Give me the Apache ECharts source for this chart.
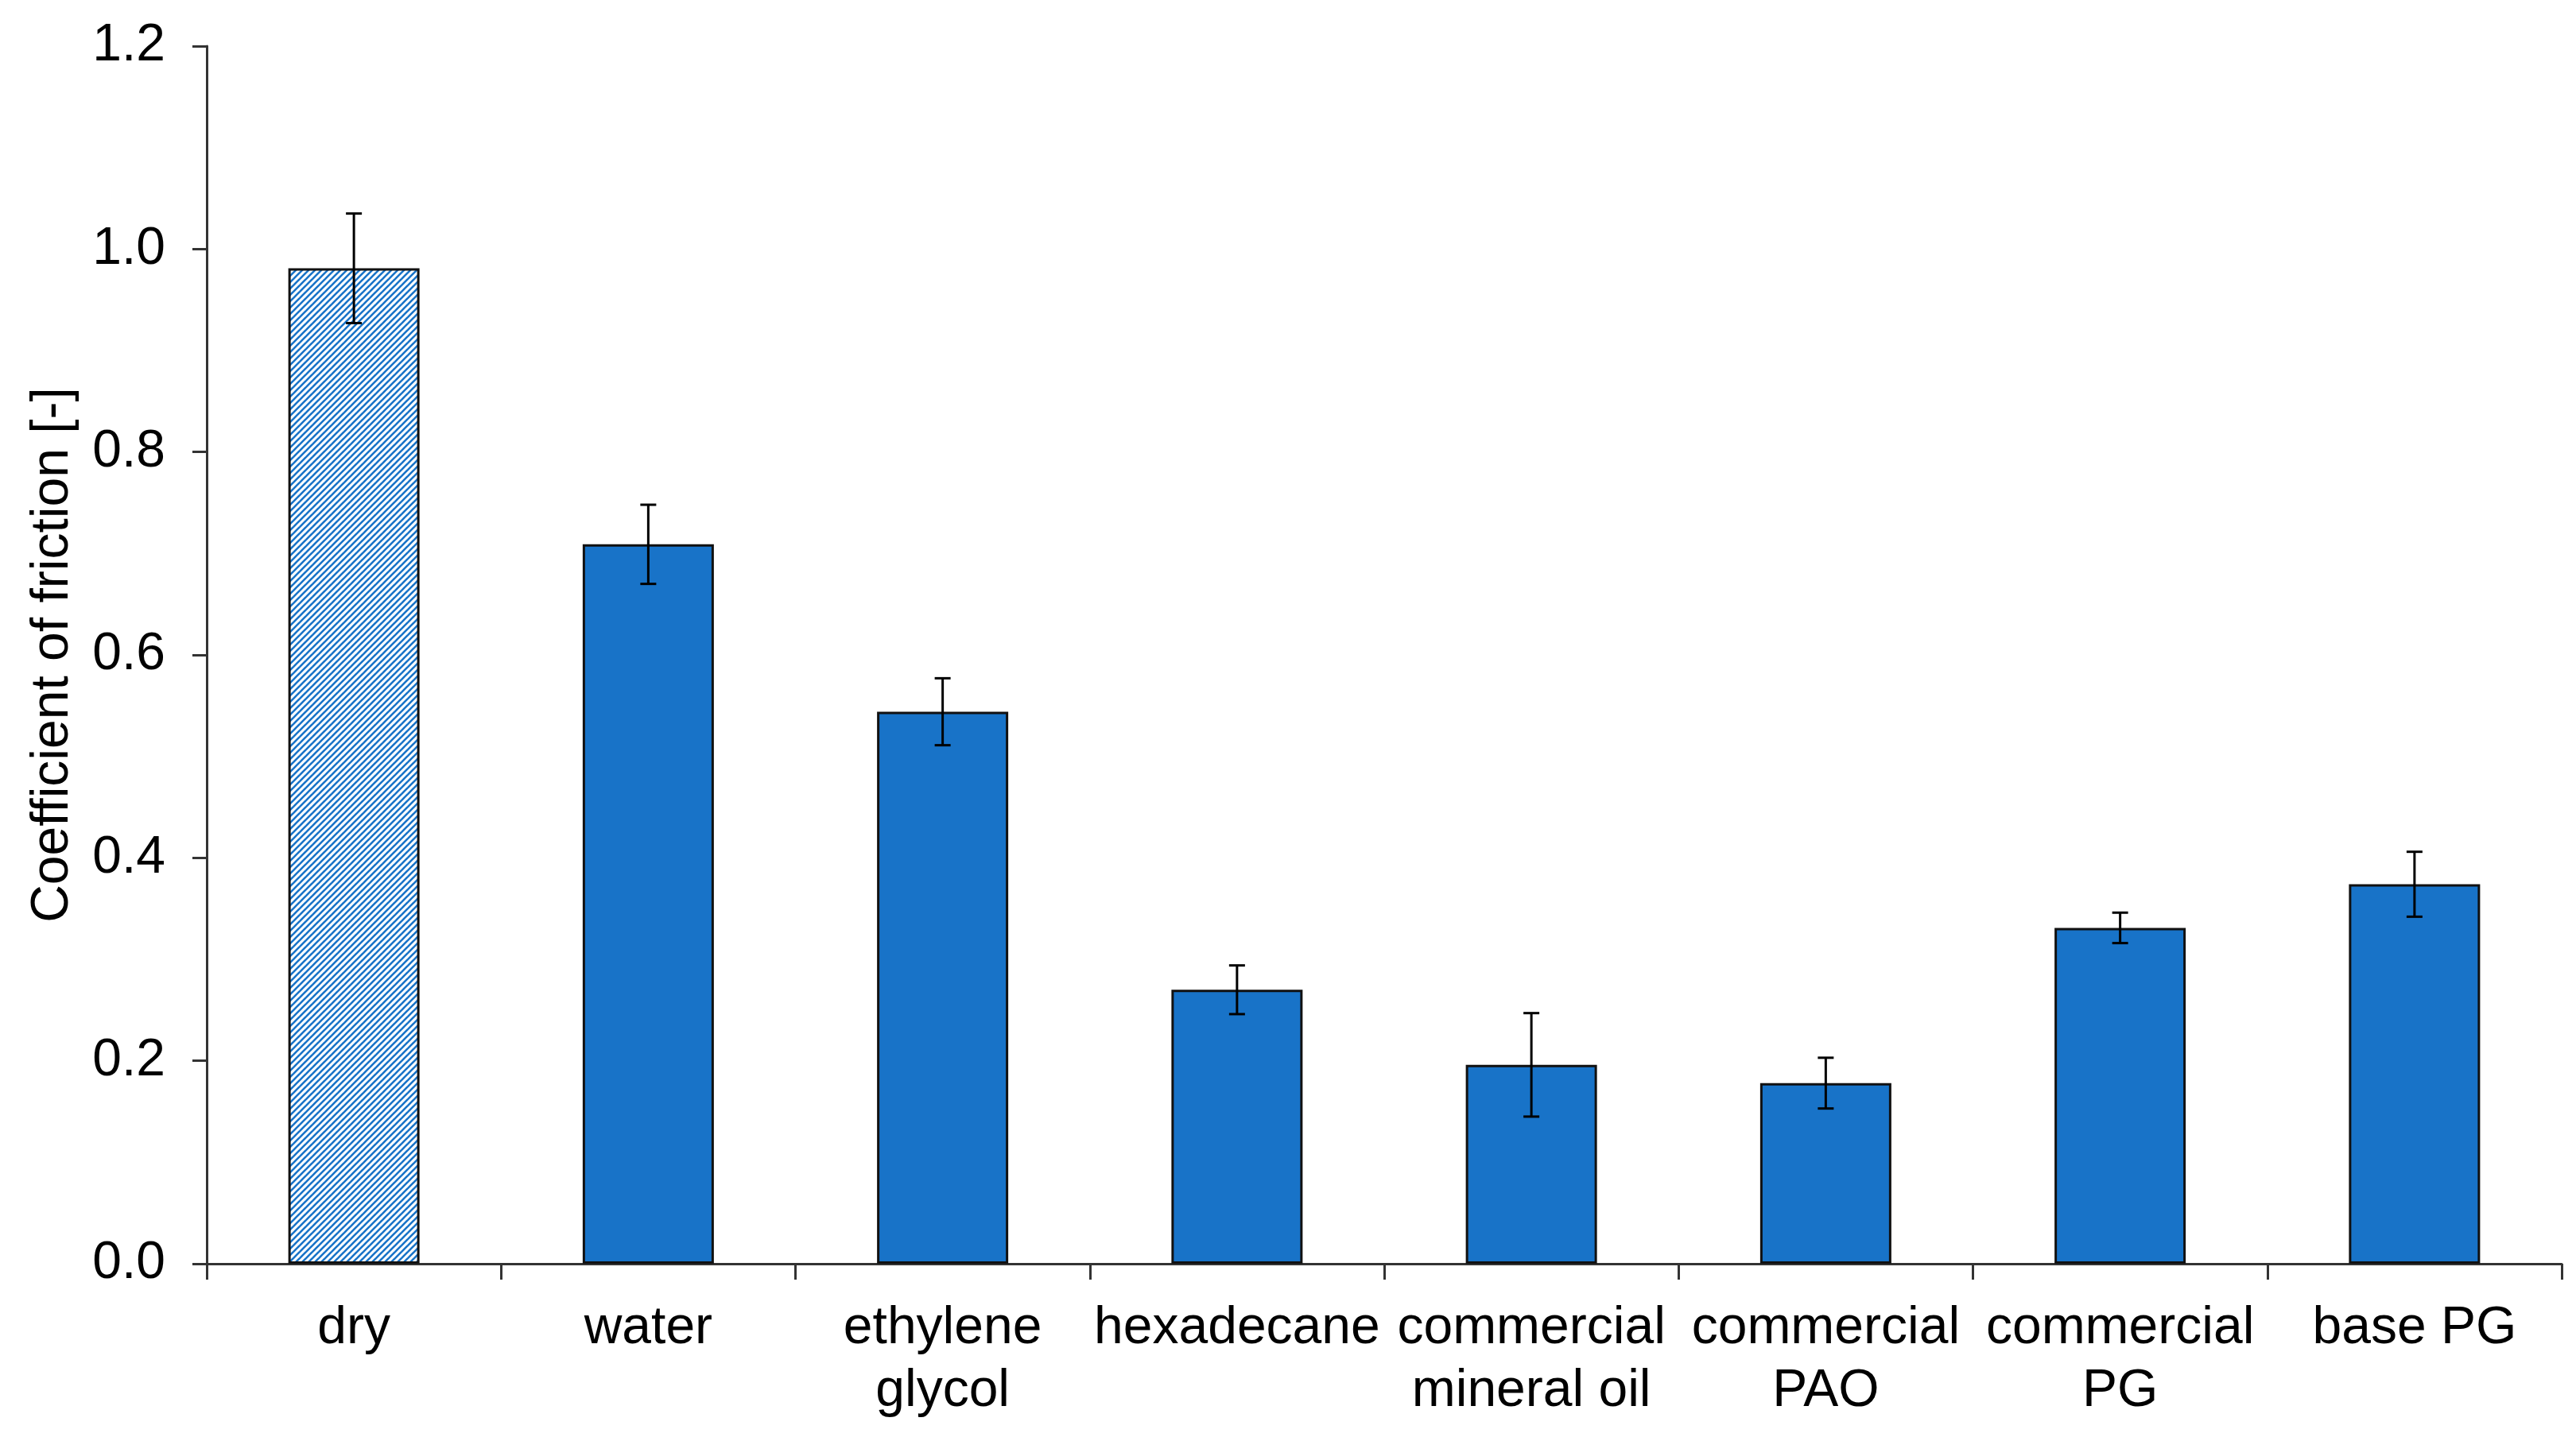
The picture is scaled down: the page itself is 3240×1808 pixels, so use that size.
<!DOCTYPE html>
<html>
<head>
<meta charset="utf-8">
<script src="https://cdn.jsdelivr.net/npm/echarts@6/dist/echarts.min.js"></script>
<style>
html,body{margin:0;padding:0;background:#fff;}
#chart{width:3240px;height:1808px;}
</style>
</head>
<body>
<div id="chart"></div>
<script>
const categories = ['dry', 'water', 'ethylene\nglycol', 'hexadecane', 'commercial\nmineral oil', 'commercial\nPAO', 'commercial\nPG', 'base PG'];
const frictionValues = [0.981, 0.709, 0.544, 0.270, 0.196, 0.178, 0.331, 0.374];
const frictionErrors = [0.054, 0.039, 0.033, 0.024, 0.051, 0.025, 0.015, 0.032];
const yTicks = { min: 0, max: 1.2, interval: 0.2 };

const BLUE = '#1873C8';
const FONT = "'Liberation Sans', Arial, sans-serif";

// hatched pattern for "dry"
const P = 8;
const tile = document.createElement('canvas');
tile.width = P; tile.height = P;
const tctx = tile.getContext('2d');
tctx.fillStyle = '#ffffff';
tctx.fillRect(0, 0, P, P);
tctx.strokeStyle = BLUE;
tctx.lineWidth = 2.6;
[-P, 0, P].forEach(k => {
  tctx.beginPath();
  tctx.moveTo(k - 1, P + 1);
  tctx.lineTo(k + P + 1, -1);
  tctx.stroke();
});

const barData = frictionValues.map((v, i) => {
  if (i === 0) {
    return { value: v, itemStyle: { color: { image: tile, repeat: 'repeat' } } };
  }
  return v;
});
const errData = frictionValues.map((v, i) => [i, v - frictionErrors[i], v + frictionErrors[i]]);

const chart = echarts.init(document.getElementById('chart'), null, { renderer: 'canvas' });
chart.setOption({
  backgroundColor: '#ffffff',
  animation: false,
  grid: { left: 260, top: 58, right: 18, bottom: 218, containLabel: false },
  xAxis: {
    type: 'category',
    data: categories,
    boundaryGap: true,
    axisLine: { lineStyle: { color: '#333', width: 3 } },
    axisTick: { show: true, length: 20, inside: false, lineStyle: { color: '#333', width: 3 } },
    axisLabel: { interval: 0, color: '#000', fontSize: 66, fontFamily: FONT, lineHeight: 79, margin: 42 },
    splitLine: { show: false }
  },
  yAxis: {
    type: 'value',
    min: yTicks.min, max: yTicks.max, interval: yTicks.interval,
    name: 'Coefficient of friction [-]',
    nameLocation: 'middle',
    nameRotate: 90,
    nameGap: 160,
    nameTextStyle: { color: '#000', fontSize: 66, fontFamily: FONT },
    axisLine: { show: true, lineStyle: { color: '#333', width: 3 } },
    axisTick: { show: true, length: 18, inside: false, lineStyle: { color: '#333', width: 3 } },
    axisLabel: { color: '#000', fontSize: 66, fontFamily: FONT, margin: 52, formatter: v => v.toFixed(1) },
    splitLine: { show: false }
  },
  series: [
    {
      type: 'bar',
      data: barData,
      barWidth: 165,
      itemStyle: { color: BLUE, borderColor: '#111', borderWidth: 3 },
      z: 2
    },
    {
      type: 'custom',
      data: errData,
      z: 5,
      renderItem: function (params, api) {
        const x = api.value(0);
        const lo = api.coord([x, api.value(1)]);
        const hi = api.coord([x, api.value(2)]);
        const half = 10;
        const style = { stroke: '#000', lineWidth: 3 };
        return {
          type: 'group',
          children: [
            { type: 'line', shape: { x1: hi[0], y1: hi[1], x2: lo[0], y2: lo[1] }, style: style },
            { type: 'line', shape: { x1: hi[0] - half, y1: hi[1], x2: hi[0] + half, y2: hi[1] }, style: style },
            { type: 'line', shape: { x1: lo[0] - half, y1: lo[1], x2: lo[0] + half, y2: lo[1] }, style: style }
          ]
        };
      }
    }
  ]
});
</script>
</body>
</html>
